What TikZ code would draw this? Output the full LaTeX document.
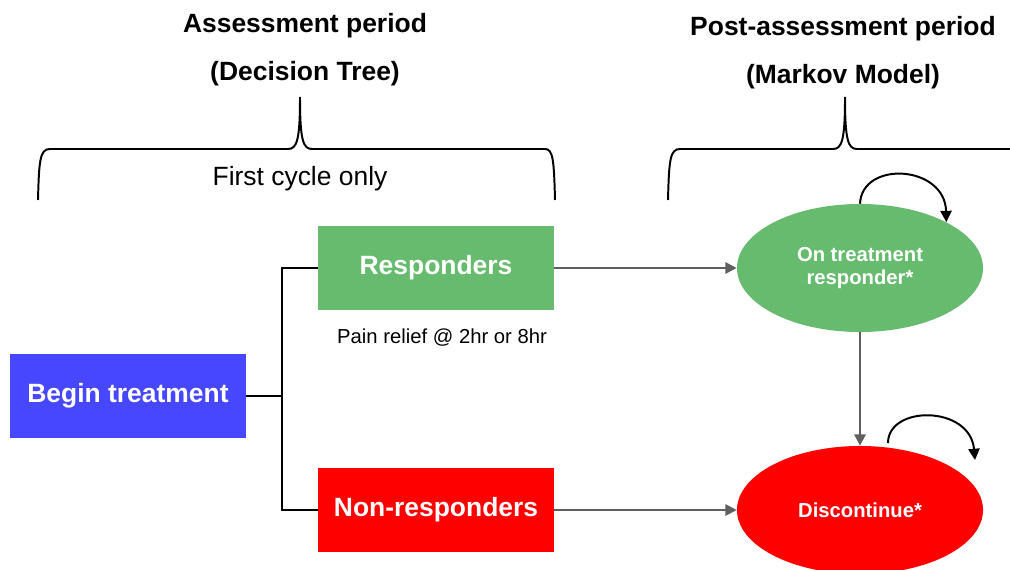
\documentclass[tikz,border=0pt]{standalone}
\usepackage{fontspec}
\setmainfont{Liberation Sans}
\usetikzlibrary{shapes.geometric,arrows.meta}

\definecolor{respgreen}{RGB}{102,187,110}
\definecolor{beginblue}{RGB}{71,71,255}
\definecolor{nonred}{RGB}{255,0,0}
\definecolor{flowgray}{RGB}{95,95,95}

\tikzset{
  bigfont/.style={font=\fontsize{18.8}{22}\selectfont\bfseries},
  box/.style={rectangle,minimum width=5.9cm,minimum height=2.12cm,inner sep=0pt,text=white,bigfont},
  state/.style={ellipse,minimum width=6.15cm,minimum height=3.2cm,inner sep=0pt,text=white,align=center,
    font=\fontsize{14.4}{16.5}\selectfont\bfseries},
  flow/.style={->,flowgray,line width=1.4pt},
  tree/.style={line width=1.5pt},
  brace/.style={line width=1.4pt},
  loop/.style={->,line width=1.4pt},
  >={Triangle[length=8pt,width=8pt]}
}

\begin{document}
\begin{tikzpicture}[x=0.025cm,y=-0.025cm]
      \useasboundingbox (0,0) rectangle (1010,570);
      % period titles
      \node[bigfont] (assess) at (305,26) {Assessment period};
      \node[bigfont] (dtree) at (305,74) {(Decision Tree)};
      \node[bigfont] (post) at (843,29) {Post-assessment period};
      \node[bigfont] (markov) at (843,77) {(Markov Model)};
      %
      \draw[brace] (38,200) .. controls (39,160) and (40,149) .. (50,149) -- (288,149)
        .. controls (297,149) and (300,140) .. (300,97) .. controls (300,140) and (303,149) .. (312,149)
        -- (545,149) .. controls (553,149) and (554,160) .. (555,200);
      \draw[brace] (668,200) .. controls (669,160) and (670,149) .. (680,149) -- (833,149)
        .. controls (842,149) and (845,140) .. (845,97) .. controls (845,140) and (848,149) .. (857,149)
        -- (1015,149);
      \node[font=\fontsize{18.8}{22}\selectfont] (first) at (300,179) {First cycle only};
      %
      \node[box,fill=beginblue] (begin) at (128,396) {Begin treatment};
      \node[box,fill=respgreen] (resp) at (436,268) {Responders};
      \node[box,fill=nonred] (nonresp) at (436,510) {Non-responders};
      \node[font=\fontsize{14.4}{17}\selectfont] (relief) at (442,338) {Pain relief @ 2hr or 8hr};
      \coordinate (split) at (282,396);
      \draw[tree] (begin) -- (split);
      \draw[tree] (resp.west) -| (split);
      \draw[tree] (nonresp.west) -| (split);
      %
      \node[state,fill=respgreen] (onresp) at (860,268) {On treatment\\responder*};
      \node[state,fill=nonred] (disc) at (860,510) {Discontinue*};
      \draw[flow] (resp) -- (onresp);
      \draw[flow] (nonresp) -- (disc);
      \draw[flow] (onresp) -- (disc);
      \draw[loop] (onresp.north) .. controls (862,160) and (945,165) .. (onresp.28);
      \coordinate (discfrom) at (888,443);
      \coordinate (discto) at (975,460);
      \draw[loop] (discfrom) .. controls (888,405) and (970,405) .. (discto);
    \end{tikzpicture}
\end{document}
